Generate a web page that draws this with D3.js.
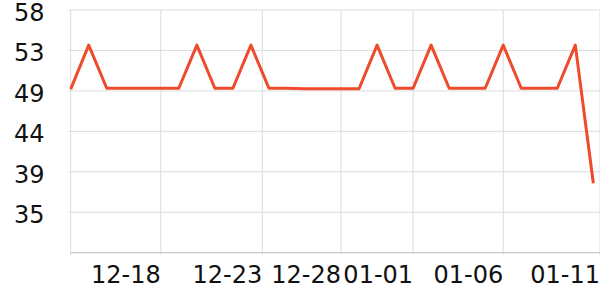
<!DOCTYPE html>
<html>
<head>
<meta charset="utf-8">
<script src="https://cdn.jsdelivr.net/npm/d3@7"></script>
<style>
  html, body { margin: 0; padding: 0; background: #fff; }
  svg { display: block; }
  text { font-family: "DejaVu Sans", sans-serif; font-size: 24px; fill: #111; }
</style>
</head>
<body>
<svg id="chart" width="600" height="300"></svg>
<script>
// ---- data ----
const dates = [
  "2023-12-13","2023-12-14","2023-12-15","2023-12-16","2023-12-17","2023-12-18",
  "2023-12-19","2023-12-20","2023-12-21","2023-12-22","2023-12-23","2023-12-24",
  "2023-12-25","2023-12-26","2023-12-27","2023-12-28","2023-12-29","2023-12-30",
  "2023-12-31","2024-01-01","2024-01-02","2024-01-03","2024-01-04","2024-01-05",
  "2024-01-06","2024-01-07","2024-01-08","2024-01-09","2024-01-10","2024-01-11"
];
const values = [
  49.3, 54.3, 49.4, 49.4, 49.4, 49.4,
  49.4, 54.3, 49.4, 49.4, 54.3, 49.4,
  49.4, 49.35, 49.35, 49.35, 49.35, 54.3,
  49.4, 49.4, 54.3, 49.4, 49.4, 49.4,
  54.3, 49.4, 49.4, 49.4, 54.3, 38.6
];
const xTickDates = [
  "2023-12-18T00:00", "2023-12-23T15:10", "2023-12-28T00:00",
  "2024-01-01T00:00", "2024-01-06T00:00", "2024-01-11T08:53"
];
const xTickLabels = ["12-18", "12-23", "12-28", "01-01", "01-06", "01-11"];
const yDomain = [30.7, 58.3];
const yTickValues = [35.3, 39.9, 44.5, 49.1, 53.7, 58.3];
const yTickLabels = ["35", "39", "44", "49", "53", "58"];

// ---- layout ----
const mLeft = 70.7, mRight = 600, mTop = 10, mBottom = 252.7;
const svg = d3.select("#chart");
const parse = s => new Date(s);
const pts = dates.map((d, i) => ({ date: parse(d + "T00:00"), value: values[i] }));

const x = d3.scaleTime()
  .domain([parse("2023-12-13T00:00"), parse("2024-01-11T08:53")])
  .range([mLeft, mRight]);
const y = d3.scaleLinear().domain(yDomain).range([mBottom, mTop]);

// horizontal grid + y ticks
svg.append("g").selectAll("line")
  .data(yTickValues).join("line")
  .attr("x1", mLeft - 2.5).attr("x2", mRight)
  .attr("y1", d => y(d)).attr("y2", d => y(d))
  .attr("stroke", "#dcdcdc").attr("stroke-width", 1);

// vertical grid + x ticks (incl. left edge)
const xt = xTickDates.map(parse);
svg.append("g").selectAll("line")
  .data([x.domain()[0], ...xt]).join("line")
  .attr("x1", d => x(d)).attr("x2", d => x(d))
  .attr("y1", mTop).attr("y2", mBottom + 2)
  .attr("stroke", "#dcdcdc").attr("stroke-width", 1);

// bottom axis line
svg.append("line")
  .attr("x1", mLeft).attr("x2", mRight)
  .attr("y1", mBottom).attr("y2", mBottom)
  .attr("stroke", "#bdbdbd").attr("stroke-width", 1);

// y labels
svg.append("g").selectAll("text")
  .data(yTickValues).join("text")
  .attr("x", 44.5).attr("y", d => y(d)).attr("dy", 10.7)
  .attr("text-anchor", "end")
  .text((d, i) => yTickLabels[i]);

// x labels
svg.append("g").selectAll("text")
  .data(xt).join("text")
  .attr("x", d => x(d)).attr("y", mBottom + 30.6)
  .attr("text-anchor", "end")
  .text((d, i) => xTickLabels[i]);

// line
const line = d3.line().x(d => x(d.date)).y(d => y(d.value));
svg.append("path")
  .datum(pts)
  .attr("d", line)
  .attr("fill", "none")
  .attr("stroke", "#ee4a2c")
  .attr("stroke-width", 3)
  .attr("stroke-linejoin", "round");
</script>
</body>
</html>
